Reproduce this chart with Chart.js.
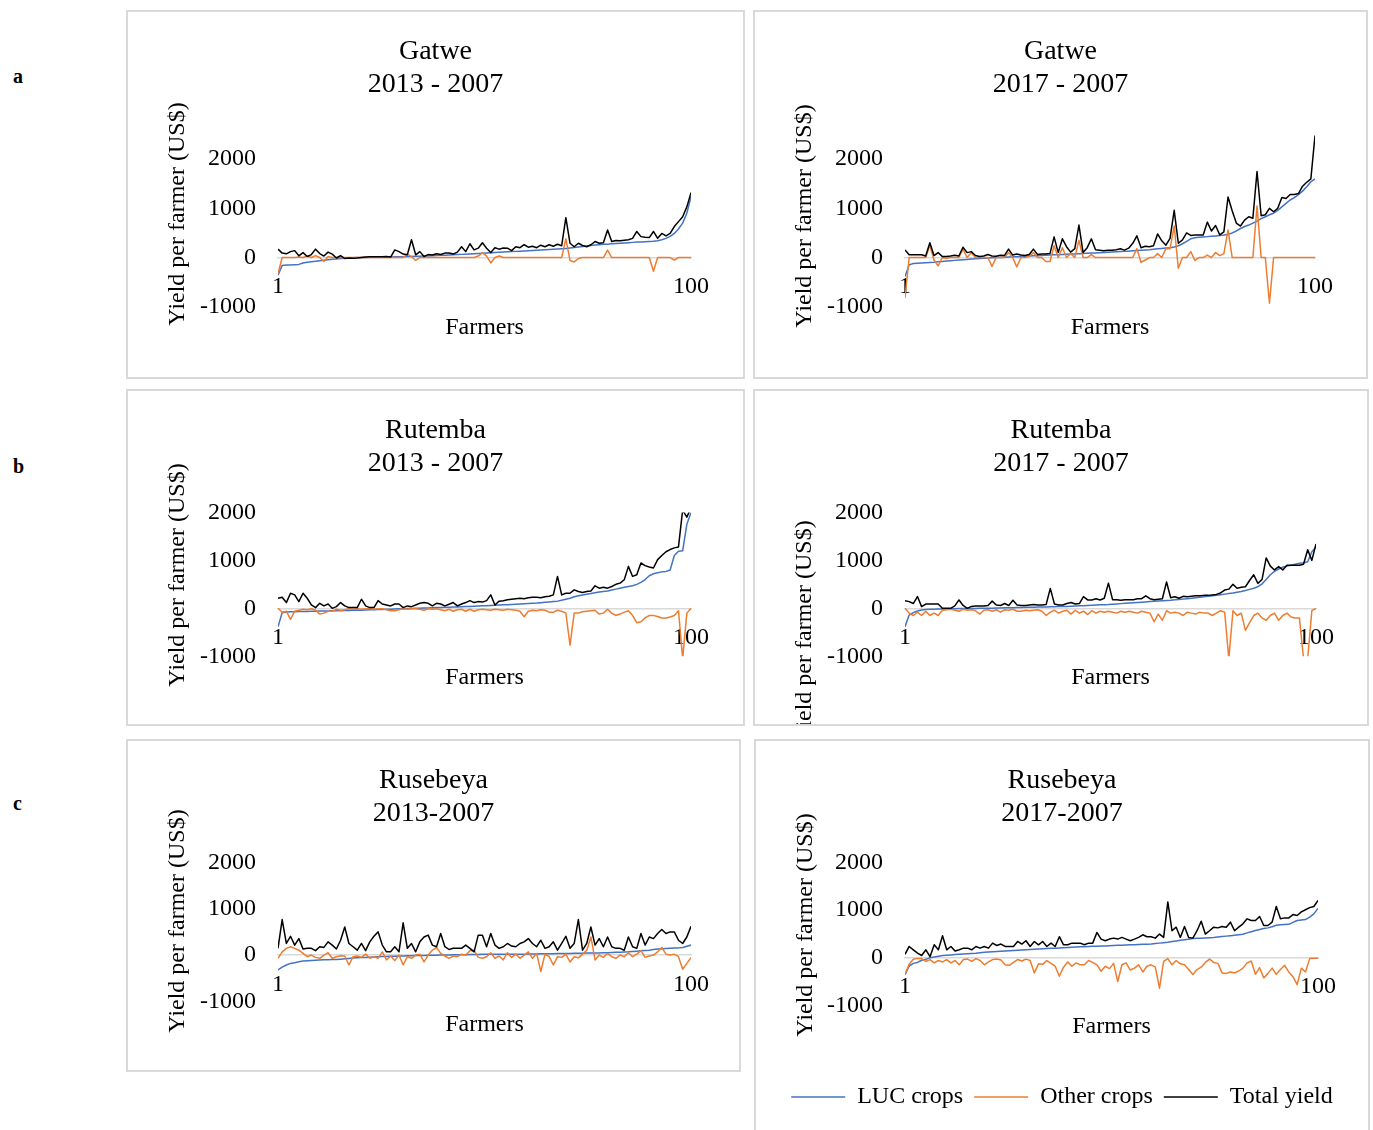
<!DOCTYPE html>
<html>
<head>
<meta charset="utf-8">
<title>Yield per farmer</title>
<script src="https://cdn.jsdelivr.net/npm/chart.js@4.4.0/dist/chart.umd.min.js"></script>
<style>
  html, body { margin: 0; padding: 0; background: #fff; }
  body { position: relative; width: 1373px; height: 1130px; overflow: hidden; font-family: 'Liberation Serif', 'Times New Roman', serif; }
  .panel { position: absolute; box-sizing: border-box; border: 2px solid #d9d9d9; background: #fff; }
  .panel canvas { position: absolute; left: 0; top: 0; }
  .row-tag { position: absolute; font-size: 20px; line-height: 20px; font-weight: bold; color: #000; }
</style>
</head>
<body>
<div class="row-tag" style="left:13px; top:66px">a</div>
<div class="row-tag" style="left:13px; top:456px">b</div>
<div class="row-tag" style="left:13px; top:793px">c</div>

<script>
/* ── Data ─────────────────────────────────────────────────────────────────── */
const FARMERS = Array.from({ length: 100 }, (_, i) => i + 1);
const X_TICKS = [1, 100];
const Y_TICKS = [-1000, 0, 1000, 2000];
const SERIES_NAMES = ['LUC crops', 'Other crops', 'Total yield'];

// Gatwe 2013 - 2007
const gatwe13Luc = [
  -360, -160, -150, -150, -145, -140, -110, -95, -85, -75,
  -65, -55, -45, -35, -30, -20, -15, -10, -5, 0,
  0, 2, 4, 5, 6, 8, 10, 12, 14, 16,
  18, 20, 22, 25, 28, 30, 33, 36, 40, 44,
  48, 52, 56, 60, 64, 68, 72, 76, 80, 85,
  90, 95, 100, 105, 110, 115, 120, 125, 130, 135,
  140, 145, 150, 155, 160, 165, 170, 175, 180, 185,
  195, 205, 215, 225, 235, 245, 255, 262, 268, 272,
  278, 284, 290, 296, 302, 308, 314, 318, 322, 326,
  330, 340, 360, 390, 430, 490, 580, 700, 900, 1240,
];
const gatwe13Other = [
  -330, 0, 0, 0, 0, 10, 0, 30, 0, 40,
  0, -80, 20, 0, 0, 0, 0, 0, 0, 0,
  0, 0, 0, 0, 0, 0, 0, 0, 0, 0,
  0, 70, 20, -60, 0, 0, 0, 0, 0, 0,
  0, 0, 0, 0, 0, 0, 0, 0, 30, 100,
  30, -110, 0, 30, 0, 0, 0, 0, 0, 0,
  0, 0, 0, 0, 0, 0, 0, 0, 0, 380,
  -60, -90, -20, 0, 0, 0, 0, 0, 0, 150,
  0, 0, 0, 0, 0, 0, 0, 0, 0, 0,
  -280, 0, 0, 0, 0, -50, 0, 0, 0, 0,
];
const gatwe13Total = [
  170, 90, 75, 120, 140, 35, 100, 20, 60, 170,
  80, 30, 110, 70, -10, 40, -20, -10, -15, -10,
  0, 10, 15, 15, 15, 15, 20, 10, 155, 120,
  70, 55, 360, 55, 120, 20, 60, 50, 75, 60,
  90, 90, 70, 110, 220, 120, 280, 155, 190, 300,
  190, 100, 200, 170, 195, 190, 140, 220, 200, 260,
  210, 230, 200, 250, 220, 260, 230, 270, 240, 810,
  290, 220, 290, 245, 220, 260, 325, 290, 300, 560,
  325, 345, 340, 350, 360, 390, 530, 425, 410, 405,
  530, 390, 490, 440, 490, 630, 730, 830, 1030, 1320,
];

// Gatwe 2017 - 2007
const gatwe17Luc = [
  -385, -150, -120, -115, -110, -105, -100, -95, -88, -80,
  -72, -65, -58, -50, -44, -38, -32, -26, -20, -15,
  -10, -6, -2, 2, 6, 10, 14, 18, 22, 26,
  30, 34, 38, 42, 46, 50, 54, 58, 62, 66,
  70, 74, 78, 82, 86, 90, 94, 98, 102, 106,
  110, 115, 120, 125, 130, 136, 142, 148, 154, 160,
  168, 176, 184, 192, 200, 215, 240, 280, 330, 380,
  400, 410, 418, 425, 432, 440, 448, 456, 470, 500,
  540, 590, 630, 660, 700, 740, 790, 830, 870, 900,
  960, 1030, 1100, 1170, 1220, 1280, 1350, 1440, 1540, 1600,
];
const gatwe17Other = [
  -820, 0, 0, 0, 0, 0, 250, -50, -170, 0,
  -20, 0, 0, 0, 170, 0, 100, 0, 0, 0,
  0, -180, 0, 0, 0, 100, 0, -190, 0, 0,
  20, 100, 0, 0, -80, -80, 240, 0, 200, 0,
  80, 0, 350, 0, 0, 60, 0, 0, 0, 0,
  0, 0, 0, 0, 0, 0, 180, -100, -50, 0,
  0, 80, 0, 180, 180, 640, -220, 0, 0, 120,
  -60, 0, 0, 50, 0, 100, 40, 80, 560, 0,
  0, 0, 0, 0, 0, 1050, 0, 0, -930, 0,
  0, 0, 0, 0, 0, 0, 0, 0, 0, 0,
];
const gatwe17Total = [
  155, 55, 55, 55, 55, 30, 300, 40, 100, 20,
  20, 30, 45, 30, 210, 100, 120, 40, 20, 30,
  60, 30, 25, 45, 40, 170, 50, 70, 50, 40,
  60, 170, 60, 70, 70, 80, 420, 100, 380, 220,
  110, 180, 660, 100, 200, 380, 160, 150, 140, 150,
  150, 160, 180, 150, 190, 290, 440, 200, 230, 220,
  240, 480, 340, 250, 390, 960, 290, 360, 500, 450,
  460, 460, 460, 720, 540, 650, 460, 520, 1230, 950,
  700, 640, 760, 830, 800, 1750, 850, 870, 1000, 930,
  1000, 1220, 1200, 1280, 1280, 1300, 1450, 1530, 1600, 2480,
];

// Rutemba 2013 - 2007
const rutemba13Luc = [
  -385, -90, -75, -70, -70, -68, -66, -64, -62, -60,
  -58, -56, -54, -52, -50, -48, -46, -44, -42, -40,
  -38, -35, -32, -29, -26, -23, -20, -17, -14, -11,
  -8, -5, -2, 0, 3, 6, 9, 12, 15, 18,
  21, 24, 27, 30, 33, 36, 40, 44, 48, 52,
  56, 60, 64, 68, 72, 76, 80, 85, 90, 95,
  100, 105, 110, 118, 126, 134, 142, 150, 170, 190,
  210, 240, 260, 280, 295, 310, 325, 340, 350, 360,
  380, 400, 420, 440, 455, 470, 500, 540, 600, 680,
  720, 740, 760, 770, 800, 1100, 1190, 1200, 1750, 2000,
];
const rutemba13Other = [
  0, -80, -60, -230, -60, -40, -20, -30, -10, -40,
  -120, -100, -60, -60, -20, -40, -30, -10, -20, -10,
  -20, -10, -10, -20, -10, -10, -30, -50, -50, -30,
  -10, -20, -10, -10, -20, -40, -10, -20, -10, -30,
  -50, -20, -60, -30, -20, -60, -20, -60, -30, -20,
  -30, -40, -20, -30, -40, -20, -30, -40, -60, -175,
  -60, -40, -50, -30, -40, -80, -80, -40, -60, -100,
  -770, -100, -100, -70, -60, -50, -40, -120, -100, -20,
  -100, -150, -120, -80, -50, -150, -300, -280, -200, -150,
  -150, -170, -200, -200, -180, -150, -50, -1050, -100, 0,
];
const rutemba13Total = [
  210, 230, 120, 315, 280, 140, 315, 210, 70, 15,
  105, 50, 90, 0, 35, 120, 50, 15, 15, 15,
  190, 50, 15, 15, 160, 90, 70, 50, 90, 90,
  15, 50, 35, 70, 105, 120, 105, 50, 105, 90,
  50, 85, 120, 50, 90, 120, 160, 120, 140, 130,
  160, 280, 70, 150, 160, 180, 190, 200, 210, 200,
  220, 230, 230, 220, 240, 250, 280, 665, 280, 315,
  315, 385, 350, 330, 350, 360, 470, 420, 440, 420,
  455, 500, 525, 595, 875, 665, 700, 945, 890, 860,
  840, 1015, 1100, 1180, 1225, 1260, 1280, 2050, 1900, 2100,
];

// Rutemba 2017 - 2007
const rutemba17Luc = [
  -385, -140, -90, -55, -35, -25, -20, -18, -16, -14,
  -12, -10, -8, -6, -5, -4, -3, -2, -1, 0,
  2, 4, 6, 8, 10, 12, 14, 16, 18, 20,
  22, 24, 26, 28, 30, 32, 34, 36, 38, 40,
  44, 48, 52, 56, 60, 64, 68, 72, 76, 80,
  86, 92, 98, 104, 110, 116, 122, 128, 134, 140,
  146, 152, 158, 164, 170, 178, 186, 194, 202, 210,
  220, 230, 240, 250, 260, 272, 284, 296, 308, 320,
  335, 350, 370, 395, 420, 450, 510, 600, 700, 770,
  820, 860, 880, 900, 920, 940, 950, 970, 1180, 1280,
];
const rutemba17Other = [
  0, -100, -150, -80, -150, -60, -150, -100, -150, -40,
  -30, -20, -40, -60, -20, -40, -30, -50, -120, -40,
  -30, -60, -30, -80, -30, -40, -20, -60, -60, -40,
  -50, -40, -30, -60, -150, -80, -40, -100, -60, -40,
  -120, -40, -100, -60, -130, -50, -100, -60, -80, -60,
  -80, -100, -60, -80, -60, -80, -100, -60, -80, -100,
  -280, -120, -250, -50, -100, -80, -100, -150, -80, -100,
  -120, -80, -100, -100, -150, -100, -50, -80, -1050, -50,
  -150, -100, -460, -300, -150, -100, -200, -250, -150, -100,
  -250, -150, -100, -180, -200, -200, -1050, -1050, -50, 0,
];
const rutemba17Total = [
  160, 140, 100, 245, 35, 90, 90, 90, 90, 0,
  0, 0, 50, 175, 60, 0, 40, 50, 50, 50,
  60, 150, 70, 60, 100, 60, 170, 70, 60, 60,
  70, 80, 70, 70, 80, 415, 90, 70, 70, 100,
  120, 90, 100, 245, 175, 175, 200, 175, 210, 525,
  180, 180, 170, 180, 180, 180, 200, 200, 260, 200,
  180, 190, 200, 550, 220, 240, 210, 250, 240, 250,
  260, 260, 270, 270, 280, 290, 320, 380, 400, 500,
  420, 440, 450, 580, 700, 520, 600, 1050, 880, 800,
  870, 800, 900, 900, 900, 900, 920, 1220, 1000, 1340,
];

// Rusebeya 2013-2007
const rusebeya13Luc = [
  -320, -260, -215, -180, -165, -145, -130, -122, -115, -110,
  -106, -102, -99, -97, -95, -88, -80, -73, -66, -60,
  -55, -50, -45, -40, -35, -32, -29, -26, -23, -20,
  -18, -16, -14, -12, -10, -8, -6, -4, -2, 0,
  2, 3, 5, 6, 8, 9, 10, 12, 13, 15,
  15, 16, 16, 17, 17, 18, 18, 19, 19, 20,
  21, 23, 24, 26, 27, 29, 30, 32, 33, 35,
  36, 38, 39, 41, 42, 44, 45, 47, 48, 50,
  54, 58, 62, 66, 70, 77, 84, 91, 98, 105,
  118, 130, 135, 140, 145, 150, 155, 165, 190, 215,
];
const rusebeya13Other = [
  -70, 70, 145, 180, 145, 105, 35, -35, 0, -50,
  -70, 0, 50, -70, -35, -15, -20, -215, -35, -20,
  -50, 20, -70, -35, -70, 70, -105, -20, -120, 0,
  -215, -35, -70, 0, 20, -145, 0, 105, 165, 35,
  -20, -70, -20, -35, 20, 0, 95, 105, -50, -70,
  -35, 50, -70, -20, -105, 50, -50, 20, -70, 0,
  70, -70, 35, -355, 20, -35, -215, -35, -50, 20,
  -150, -35, -60, 20, 100, 390, -105, 0, -50, 35,
  -35, -70, 0, -35, 50, -35, 20, 95, -50, -20,
  0, 70, 165, 20, 0, 20, -35, -305, -180, -55,
];
const rusebeya13Total = [
  145, 765, 250, 405, 215, 355, 130, 145, 145, 95,
  180, 165, 285, 215, 130, 320, 605, 250, 180, 105,
  250, 95, 285, 405, 500, 215, 70, 70, 180, 70,
  695, 145, 250, 70, 285, 390, 430, 215, 180, 465,
  180, 120, 145, 145, 145, 215, 145, 70, 430, 430,
  180, 465, 215, 145, 180, 250, 195, 180, 250, 285,
  355, 250, 180, 320, 145, 180, 285, 105, 250, 405,
  145, 250, 765, 105, 250, 605, 215, 355, 180, 390,
  180, 145, 145, 105, 390, 180, 145, 465, 215, 390,
  355, 465, 550, 465, 500, 500, 320, 250, 390, 620,
];

// Rusebeya 2017-2007
const rusebeya17Luc = [
  -355, -175, -120, -100, -55, -35, 0, 15, 30, 45,
  52, 58, 64, 70, 76, 82, 88, 95, 105, 115,
  120, 125, 130, 135, 140, 145, 150, 155, 160, 165,
  170, 175, 180, 185, 190, 195, 200, 205, 210, 215,
  219, 223, 227, 231, 235, 238, 241, 244, 247, 250,
  254, 258, 262, 266, 270, 273, 276, 279, 282, 285,
  295, 305, 315, 325, 340, 352, 364, 376, 388, 400,
  405, 410, 415, 420, 425, 434, 443, 452, 461, 470,
  480, 490, 520, 545, 570, 590, 610, 625, 650, 680,
  690, 695, 700, 740, 780, 790, 800, 850, 920, 1035,
];
const rusebeya17Other = [
  -355, -140, -35, -15, -20, -80, -40, -110, -60, -90,
  -40, -110, -60, -150, -40, -30, -80, -20, -60, -150,
  -90, -40, -30, -50, -150, -160, -100, -40, -70, -30,
  -60, -320, -130, -140, -60, -120, -180, -390, -200, -90,
  -180, -110, -150, -150, -60, -100, -150, -285, -180, -230,
  -120, -500, -150, -110, -260, -220, -150, -300, -180, -150,
  -200, -640, -80, -20, -150, -60, -130, -150, -250, -355,
  -250, -200, -100, -30, -100, -120, -320, -330, -300, -320,
  -280, -220, -110, -70, -350, -210, -425, -330, -220, -350,
  -250, -160, -300, -400, -565, -220, -300, -20, -10, -10,
];
const rusebeya17Total = [
  70, 235, 165, 95, 45, 165, 20, 270, 165, 460,
  165, 235, 140, 165, 200, 200, 165, 235, 200, 235,
  200, 305, 255, 285, 235, 235, 235, 340, 285, 355,
  235, 340, 270, 340, 235, 305, 235, 440, 270, 270,
  305, 305, 305, 270, 305, 305, 530, 390, 355, 390,
  410, 390, 425, 390, 355, 390, 425, 480, 440, 440,
  410, 495, 425, 1170, 565, 640, 425, 655, 425, 410,
  565, 765, 495, 565, 640, 625, 655, 640, 745, 565,
  640, 710, 815, 780, 780, 865, 675, 675, 745, 1075,
  815, 835, 835, 905, 885, 960, 1005, 1050, 1075, 1200,
];

/* ── Look ─────────────────────────────────────────────────────────────────── */
const FONT = "'Liberation Serif', 'Times New Roman', serif";
const INK = '#000';
const COLORS = { luc: '#4472C4', other: '#ED7D31', total: '#000000', zero: '#d9d9d9' };

Chart.defaults.font.family = FONT;
Chart.defaults.color = INK;

/* Panel boxes on the page and where each plot area sits inside its canvas */
const PANELS = [
  { box: [126, 10, 619, 369], title: ['Gatwe', '2013 - 2007'], series: [gatwe13Luc, gatwe13Other, gatwe13Total],
    yMax: 2500, axisW: 150, rightW: 52, titleGap: 33.8, subTop: 6.5, subBottom: 0, padB: 35, capY: 202 },
  { box: [753, 10, 615, 369], title: ['Gatwe', '2017 - 2007'], series: [gatwe17Luc, gatwe17Other, gatwe17Total],
    yMax: 2500, axisW: 150, rightW: 51, titleGap: 33.8, subTop: 6.5, subBottom: 0, padB: 35, capY: 204 },
  { box: [126, 389, 619, 337], title: ['Rutemba', '2013 - 2007'], series: [rutemba13Luc, rutemba13Other, rutemba13Total],
    yMax: 2000, axisW: 150, rightW: 52, titleGap: 32.6, subTop: 7.3, subBottom: 0, padB: 31.6, capY: 184 },
  { box: [753, 389, 616, 337], title: ['Rutemba', '2017 - 2007'], series: [rutemba17Luc, rutemba17Other, rutemba17Total],
    yMax: 2000, axisW: 150, rightW: 51, titleGap: 32.6, subTop: 7.3, subBottom: 0, padB: 31.6, capY: 241 },
  { box: [126, 739, 615, 333], title: ['Rusebeya', '2013-2007'], series: [rusebeya13Luc, rusebeya13Other, rusebeya13Total],
    yMax: 2000, axisW: 150, rightW: 48, titleGap: 32.6, subTop: 8.5, subBottom: 0, padB: 31.3, capY: 180 },
  { box: [754, 739, 616, 400], title: ['Rusebeya', '2017-2007'], series: [rusebeya17Luc, rusebeya17Other, rusebeya17Total],
    yMax: 2000, axisW: 149, rightW: 50, titleGap: 32.6, subTop: 7.5, subBottom: 32.4, padB: 18, capY: 184, legend: true },
];

/* Rotated y caption, placed per panel ─────────────────────────────────────── */
const yCaption = {
  id: 'yCaption',
  afterDraw(chart, _args, opts) {
    const { ctx } = chart;
    ctx.save();
    ctx.translate(opts.x, opts.y);
    ctx.rotate(-Math.PI / 2);
    ctx.font = `${opts.size}px ${FONT}`;
    ctx.fillStyle = INK;
    ctx.textAlign = 'center';
    ctx.textBaseline = 'middle';
    ctx.fillText(opts.text, 0, 0);
    ctx.restore();
  },
};

function buildPanel(p) {
  const [left, top, w, h] = p.box;
  const box = document.createElement('div');
  box.className = 'panel';
  Object.assign(box.style, { left: left + 'px', top: top + 'px', width: w + 'px', height: h + 'px' });
  const canvas = document.createElement('canvas');
  canvas.width = w - 4;
  canvas.height = h - 4;
  box.appendChild(canvas);
  document.body.appendChild(box);

  const colors = [COLORS.luc, COLORS.other, COLORS.total];
  const datasets = p.series.map((values, i) => ({
    label: SERIES_NAMES[i],
    data: values,
    borderColor: colors[i],
    backgroundColor: colors[i],
    borderWidth: 1.5,
    borderJoinStyle: 'round',
    pointRadius: 0,
    tension: 0,
    fill: false,
    order: 2 - i,
  }));

  new Chart(canvas, {
    type: 'line',
    data: { labels: FARMERS, datasets },
    options: {
      responsive: false,
      animation: false,
      events: [],
      layout: { padding: { left: 0, right: 0, top: 0, bottom: p.padB } },
      scales: {
        x: {
          type: 'linear',
          min: 1,
          max: 100,
          position: { y: 0 },
          afterBuildTicks: s => { s.ticks = X_TICKS.map(v => ({ value: v })); },
          afterFit: s => { s.paddingLeft = 0; s.paddingRight = 0; },
          grid: { display: false, drawTicks: false },
          border: { display: true, color: COLORS.zero, width: 1.5 },
          ticks: { padding: 15, maxRotation: 0, autoSkip: false, color: INK, font: { size: 24 }, callback: v => String(v) },
        },
        y: {
          min: -1000,
          max: p.yMax,
          afterBuildTicks: s => { s.ticks = Y_TICKS.map(v => ({ value: v })); },
          afterFit: s => { s.width = p.axisW; s.paddingTop = 0; s.paddingBottom = 0; },
          grid: { display: false, drawTicks: false },
          border: { display: false },
          ticks: { padding: 22, color: INK, font: { size: 24 }, callback: v => String(v) },
        },
        // empty right-hand axis: keeps the plot narrow without shifting the centred title
        yPad: {
          position: 'right',
          afterFit: s => { s.width = p.rightW; s.paddingTop = 0; s.paddingBottom = 0; },
          grid: { display: false, drawTicks: false },
          border: { display: false },
          ticks: { display: false },
        },
      },
      plugins: {
        title: {
          display: true,
          text: p.title,
          color: INK,
          font: { size: 28, weight: 'normal', lineHeight: 1.18 },
          padding: { top: 22.7, bottom: p.titleGap },
        },
        subtitle: {
          display: true,
          text: 'Farmers',
          position: 'bottom',
          fullSize: false,
          weight: 100,
          color: INK,
          font: { size: 24, weight: 'normal', lineHeight: 1.2 },
          padding: { top: p.subTop, bottom: p.subBottom },
        },
        legend: {
          display: !!p.legend,
          position: 'bottom',
          labels: {
            usePointStyle: true,
            pointStyle: 'line',
            pointStyleWidth: 54,
            padding: 11,
            color: INK,
            font: { size: 24 },
            sort: (a, b) => a.datasetIndex - b.datasetIndex,
          },
        },
        tooltip: { enabled: false },
        yCaption: { text: 'Yield per farmer (US$)', x: 50, y: p.capY, size: 24 },
      },
    },
    plugins: [yCaption],
  });
}

PANELS.forEach(buildPanel);
</script>
</body>
</html>
